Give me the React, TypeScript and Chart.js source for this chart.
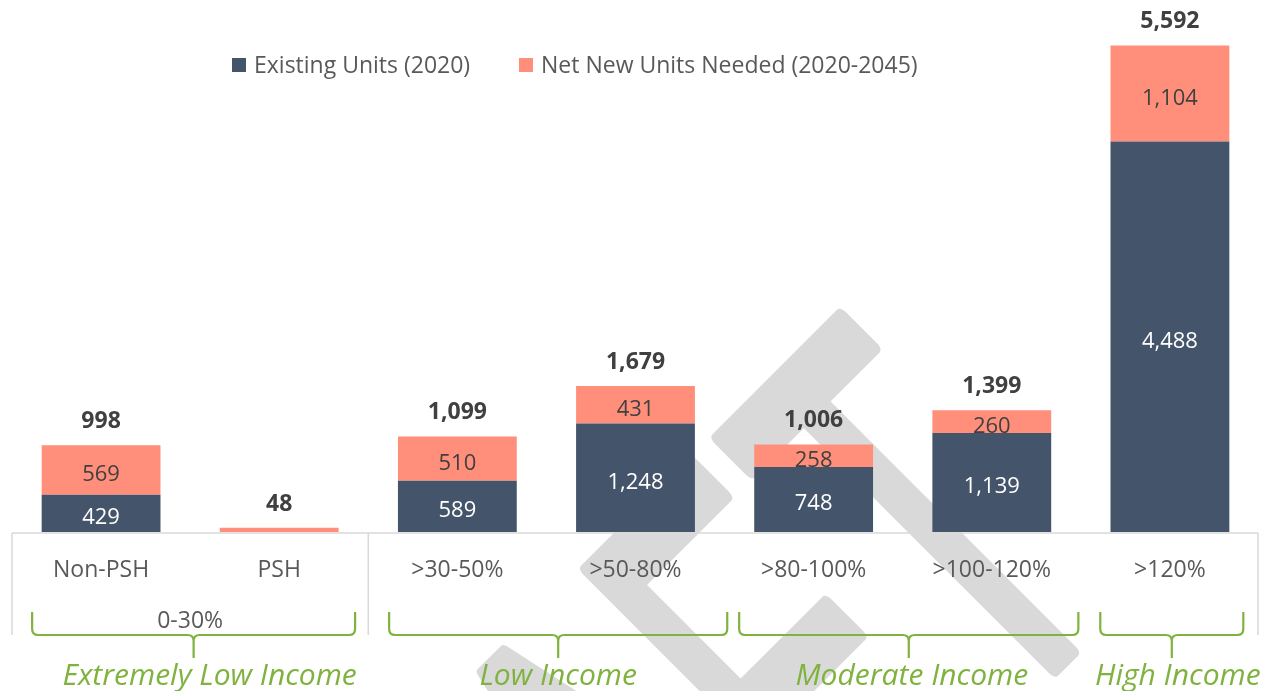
import React, { useEffect, useRef } from 'react';
import { Chart, registerables } from 'chart.js';

Chart.register(...registerables);

// ---------- data ----------
const categories = ['Non-PSH', 'PSH', '>30-50%', '>50-80%', '>80-100%', '>100-120%', '>120%'];
const existingUnits = [429, 0, 589, 1248, 748, 1139, 4488];
const netNewUnits = [569, 48, 510, 431, 258, 260, 1104];
const seriesNames = ['Existing Units (2020)', 'Net New Units Needed (2020-2045)'];
const amiGroupLabels = ['0-30%', ''];
const amiGroupStarts = [0, 2];
const amiGroupEnds = [1, 6];
const incomeLabels = ['Extremely Low Income', 'Low Income', 'Moderate Income', 'High Income'];
const incomeStarts = [0, 2, 4, 6];
const incomeEnds = [1, 3, 5, 6];

// ---------- styles ----------
const FONT = '"Open Sans", "Noto Sans", sans-serif';
const DARK = '#44546A';
const SALMON = '#FF8F7B';
const TEXT = '#595959';
const LABEL_DARK = '#404040';
const GREEN = '#7FB23F';
const AXIS_GRAY = '#D9D9D9';
const WATERMARK = '#D9D9D9';
// brace extents in category units (relative to group start/end edges)
const braceInsetLeft = [0.113, 0.117, 0.082, 0.109];
const braceInsetRight = [0.074, -0.015, 0.014, 0.088];
const incomeLabelShift = [16, 0, 3, 6];

const fmt = (v: number) => v.toLocaleString('en-US');

const decorPlugin = {
  id: 'decor',
  beforeDraw(chart: any) {
    const ctx = chart.ctx as CanvasRenderingContext2D;
    ctx.save();
    ctx.fillStyle = '#ffffff';
    ctx.fillRect(0, 0, chart.width, chart.height);
    // watermark
    const s = 0.54;
    ctx.fillStyle = WATERMARK;
    ctx.strokeStyle = WATERMARK;
    ctx.rotate(-Math.PI / 4);
    ctx.scale(s, 1);
    ctx.font = `580px "Liberation Sans", sans-serif`;
    ctx.textBaseline = 'alphabetic';
    ctx.lineJoin = 'round';
    ctx.lineWidth = 16;
    ctx.textAlign = 'right';
    ctx.fillText('DRAF', 176 / s, 1218);
    ctx.strokeText('DRAF', 176 / s, 1218);
    ctx.textAlign = 'left';
    ctx.fillText('T', 189 / s, 1218);
    ctx.strokeText('T', 189 / s, 1218);
    ctx.restore();
  },
  afterDatasetsDraw(chart: any) {
    const ctx = chart.ctx as CanvasRenderingContext2D;
    const x = chart.scales.x;
    const y = chart.scales.y;
    ctx.save();
    ctx.textAlign = 'center';
    ctx.textBaseline = 'alphabetic';
    for (let i = 0; i < categories.length; i++) {
      const cx = x.getPixelForValue(i);
      const e = existingUnits[i];
      const n = netNewUnits[i];
      const y0 = y.getPixelForValue(0);
      const y1 = y.getPixelForValue(e);
      const y2 = y.getPixelForValue(e + n);
      ctx.font = `22px ${FONT}`;
      if (y0 - y1 > 16) {
        ctx.fillStyle = '#ffffff';
        ctx.fillText(fmt(e), cx, (y0 + y1) / 2 + 11);
      }
      if (y1 - y2 > 16) {
        ctx.fillStyle = LABEL_DARK;
        ctx.fillText(fmt(n), cx, (y1 + y2) / 2 + 11);
      }
      ctx.font = `bold 23px ${FONT}`;
      ctx.fillStyle = LABEL_DARK;
      ctx.fillText(fmt(e + n), cx, y2 - 17);
    }
    ctx.restore();
  },
  afterDraw(chart: any) {
    const ctx = chart.ctx as CanvasRenderingContext2D;
    const x = chart.scales.x;
    const area = chart.chartArea;
    const step = x.getPixelForValue(1) - x.getPixelForValue(0);
    const edgeL = (i: number) => x.getPixelForValue(i) - step / 2;
    const edgeR = (i: number) => x.getPixelForValue(i) + step / 2;
    const axisY = area.bottom + 1;
    ctx.save();
    // axis box
    ctx.strokeStyle = AXIS_GRAY;
    ctx.lineWidth = 1.5;
    ctx.beginPath();
    ctx.moveTo(area.left, axisY);
    ctx.lineTo(area.right - 1, axisY);
    const divs = [edgeL(amiGroupStarts[0]), ...amiGroupEnds.map((g) => edgeR(g))];
    divs.forEach((dx, k) => {
      const px = k === divs.length - 1 ? dx - 1 : dx;
      ctx.moveTo(px, axisY);
      ctx.lineTo(px, axisY + 102);
    });
    ctx.stroke();
    // category labels
    ctx.fillStyle = TEXT;
    ctx.textAlign = 'center';
    ctx.textBaseline = 'alphabetic';
    ctx.font = `23px ${FONT}`;
    categories.forEach((c, i) => ctx.fillText(c, x.getPixelForValue(i), 577));
    amiGroupLabels.forEach((g, k) => {
      if (!g) return;
      const cx = (x.getPixelForValue(amiGroupStarts[k]) + x.getPixelForValue(amiGroupEnds[k])) / 2;
      ctx.fillText(g, cx, 628);
    });
    // braces
    ctx.strokeStyle = GREEN;
    ctx.lineWidth = 2.2;
    const top = 612, by = 635, bot = 658, r = 6;
    incomeLabels.forEach((lab, k) => {
      const L = edgeL(incomeStarts[k]) + braceInsetLeft[k] * step;
      const R = edgeR(incomeEnds[k]) - braceInsetRight[k] * step;
      const c = (L + R) / 2;
      ctx.beginPath();
      ctx.moveTo(L, top);
      ctx.lineTo(L, by - r);
      ctx.quadraticCurveTo(L, by, L + r, by);
      ctx.lineTo(c - r, by);
      ctx.quadraticCurveTo(c, by, c, by + r);
      ctx.lineTo(c, bot);
      ctx.moveTo(R, top);
      ctx.lineTo(R, by - r);
      ctx.quadraticCurveTo(R, by, R - r, by);
      ctx.lineTo(c + r, by);
      ctx.quadraticCurveTo(c, by, c, by + r);
      ctx.stroke();
      ctx.fillStyle = GREEN;
      ctx.font = `italic 30px ${FONT}`;
      ctx.fillText(lab, c + incomeLabelShift[k], 685);
    });
    // legend
    ctx.textAlign = 'left';
    ctx.font = `23px ${FONT}`;
    const legendX = [232, 519];
    const colors = [DARK, SALMON];
    seriesNames.forEach((s, k) => {
      ctx.fillStyle = colors[k];
      ctx.fillRect(legendX[k], 58, 14, 14);
      ctx.fillStyle = TEXT;
      ctx.fillText(s, legendX[k] + 22, 73);
    });
    ctx.restore();
  },
};

export default function App() {
  const ref = useRef<HTMLCanvasElement | null>(null);
  useEffect(() => {
    if (!ref.current) return;
    const chart = new Chart(ref.current, {
      type: 'bar',
      data: {
        labels: categories,
        datasets: [
          { label: seriesNames[0], data: existingUnits, backgroundColor: DARK, barPercentage: 0.667, categoryPercentage: 1 },
          { label: seriesNames[1], data: netNewUnits, backgroundColor: SALMON, barPercentage: 0.667, categoryPercentage: 1 },
        ],
      },
      options: {
        responsive: false,
        animation: false,
        layout: { padding: { left: 12, right: 16, top: 10, bottom: 159 } },
        plugins: { legend: { display: false }, tooltip: { enabled: false } },
        scales: {
          x: { stacked: true, display: false },
          y: { stacked: true, display: false, min: 0, max: 6000 },
        },
      },
      plugins: [decorPlugin],
    });
    return () => chart.destroy();
  }, []);
  return (
    <div style={{ position: 'absolute', left: 0, top: 0, width: 1275, height: 691 }}>
      <canvas ref={ref} width={1275} height={691} style={{ display: 'block' }} />
    </div>
  );
}
